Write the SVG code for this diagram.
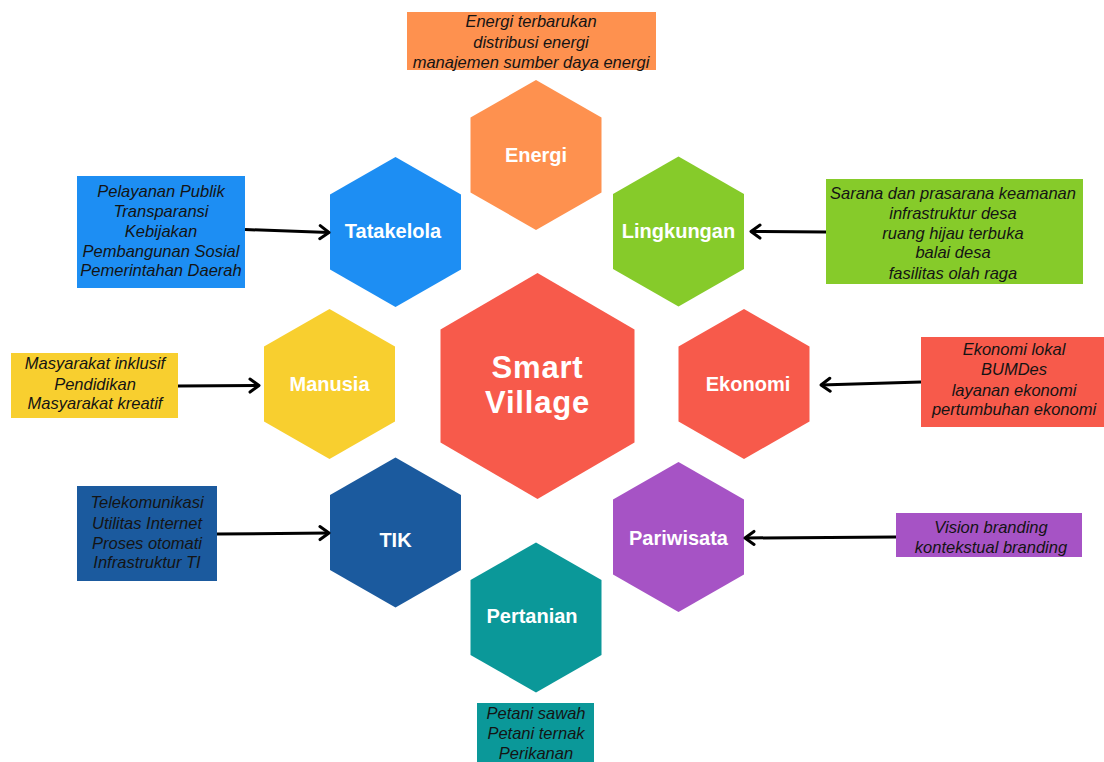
<svg xmlns="http://www.w3.org/2000/svg" xmlns:xlink="http://www.w3.org/1999/xlink" width="1104" height="762" viewBox="0 0 1104 762">
  <style>
    .hexlabel { font-family: "Liberation Sans", Arial, sans-serif; font-weight: bold; font-size: 20px; fill: #ffffff; text-anchor: middle; }
    .center { font-family: "Liberation Sans", Arial, sans-serif; font-weight: bold; font-size: 31px; fill: #ffffff; text-anchor: middle; letter-spacing: 0.8px; }
    .note { font-family: "Liberation Sans", Arial, sans-serif; font-style: italic; font-size: 16.5px; fill: #141414; text-anchor: middle; }
    .arrow { stroke: #000000; stroke-width: 3; fill: none; marker-end: url(#chev); }
  </style>
  <defs>
    <polygon id="hex" points="0,-75 65.5,-37.5 65.5,37.5 0,75 -65.5,37.5 -65.5,-37.5"/>
    <marker id="chev" markerUnits="userSpaceOnUse" markerWidth="16" markerHeight="18" refX="11" refY="8" orient="auto" viewBox="0 0 16 16">
      <path d="M2,1.5 L11,8 L2,14.5" fill="none" stroke="#000000" stroke-width="3" stroke-linecap="round" stroke-linejoin="round"/>
    </marker>
  </defs>
  <rect width="1104" height="762" fill="#ffffff"/>

  <!-- central hexagon -->
  <g id="smart-village">
    <polygon points="537.5,273 634.5,329.5 634.5,442.5 537.5,499 440.5,442.5 440.5,329.5" fill="#F75A4B"/>
    <text class="center" x="537.5" y="378">Smart</text>
    <text class="center" x="537.5" y="413">Village</text>
  </g>

  <!-- surrounding hexagons -->
  <g id="energi">
    <use xlink:href="#hex" href="#hex" transform="translate(536,155)" fill="#FE914F"/>
    <text class="hexlabel" x="536" y="162">Energi</text>
  </g>
  <g id="tatakelola">
    <use xlink:href="#hex" href="#hex" transform="translate(395.5,232)" fill="#1D8EF3"/>
    <text class="hexlabel" x="393" y="238">Tatakelola</text>
  </g>
  <g id="lingkungan">
    <use xlink:href="#hex" href="#hex" transform="translate(678.5,231.5)" fill="#86CB2A"/>
    <text class="hexlabel" x="678.5" y="238">Lingkungan</text>
  </g>
  <g id="manusia">
    <use xlink:href="#hex" href="#hex" transform="translate(329.5,384)" fill="#F8CF2F"/>
    <text class="hexlabel" x="329.5" y="391">Manusia</text>
  </g>
  <g id="ekonomi">
    <use xlink:href="#hex" href="#hex" transform="translate(744,384)" fill="#F75A4B"/>
    <text class="hexlabel" x="748" y="391">Ekonomi</text>
  </g>
  <g id="tik">
    <use xlink:href="#hex" href="#hex" transform="translate(395.5,532.5)" fill="#1B5A9E"/>
    <text class="hexlabel" x="395.5" y="547">TIK</text>
  </g>
  <g id="pariwisata">
    <use xlink:href="#hex" href="#hex" transform="translate(678.5,537)" fill="#A653C5"/>
    <text class="hexlabel" x="678.5" y="545">Pariwisata</text>
  </g>
  <g id="pertanian">
    <use xlink:href="#hex" href="#hex" transform="translate(536,617.5)" fill="#0B9899"/>
    <text class="hexlabel" x="532" y="623">Pertanian</text>
  </g>

  <!-- description boxes -->
  <g id="energi-notes">
    <rect x="407" y="12" width="249" height="58" fill="#FE914F"/>
    <text class="note" x="531" y="27">Energi terbarukan</text>
    <text class="note" x="531" y="47.5">distribusi energi</text>
    <text class="note" x="531" y="68">manajemen sumber daya energi</text>
  </g>
  <g id="tatakelola-notes">
    <rect x="77" y="176" width="168" height="112" fill="#1D8EF3"/>
    <text class="note" x="161" y="197">Pelayanan Publik</text>
    <text class="note" x="161" y="216.5">Transparansi</text>
    <text class="note" x="161" y="236.5">Kebijakan</text>
    <text class="note" x="161" y="256.5">Pembangunan Sosial</text>
    <text class="note" x="161" y="276">Pemerintahan Daerah</text>
  </g>
  <g id="lingkungan-notes">
    <rect x="826" y="179" width="257" height="105" fill="#86CB2A"/>
    <text class="note" x="953" y="199">Sarana dan prasarana keamanan</text>
    <text class="note" x="953" y="219">infrastruktur desa</text>
    <text class="note" x="953" y="238.5">ruang hijau terbuka</text>
    <text class="note" x="953" y="258">balai desa</text>
    <text class="note" x="953" y="278.5">fasilitas olah raga</text>
  </g>
  <g id="manusia-notes">
    <rect x="11" y="353" width="167" height="65" fill="#F8CF2F"/>
    <text class="note" x="95" y="369">Masyarakat inklusif</text>
    <text class="note" x="95" y="389.5">Pendidikan</text>
    <text class="note" x="95" y="409">Masyarakat kreatif</text>
  </g>
  <g id="ekonomi-notes">
    <rect x="921" y="337" width="183" height="90" fill="#F75A4B"/>
    <text class="note" x="1014" y="355">Ekonomi lokal</text>
    <text class="note" x="1014" y="375">BUMDes</text>
    <text class="note" x="1014" y="395.5">layanan ekonomi</text>
    <text class="note" x="1014" y="415">pertumbuhan ekonomi</text>
  </g>
  <g id="tik-notes">
    <rect x="77" y="486" width="140" height="95" fill="#1B5A9E"/>
    <text class="note" x="147" y="508">Telekomunikasi</text>
    <text class="note" x="147" y="528.5">Utilitas Internet</text>
    <text class="note" x="147" y="548.5">Proses otomati</text>
    <text class="note" x="147" y="568">Infrastruktur TI</text>
  </g>
  <g id="pariwisata-notes">
    <rect x="896" y="513" width="186" height="44" fill="#A653C5"/>
    <text class="note" x="991" y="533">Vision branding</text>
    <text class="note" x="991" y="553">kontekstual branding</text>
  </g>
  <g id="pertanian-notes">
    <rect x="477" y="703" width="117" height="59" fill="#0B9899"/>
    <text class="note" x="536" y="719">Petani sawah</text>
    <text class="note" x="536" y="739">Petani ternak</text>
    <text class="note" x="536" y="759">Perikanan</text>
  </g>

  <!-- connectors -->
  <g id="connectors">
    <line class="arrow" x1="245" y1="229.5" x2="329" y2="232.5"/>
    <line class="arrow" x1="826" y1="232" x2="751" y2="231.5"/>
    <line class="arrow" x1="178" y1="386" x2="259" y2="385.5"/>
    <line class="arrow" x1="921" y1="382" x2="821" y2="385"/>
    <line class="arrow" x1="217" y1="534" x2="329" y2="533"/>
    <line class="arrow" x1="896" y1="537" x2="745" y2="538"/>
  </g>
</svg>
